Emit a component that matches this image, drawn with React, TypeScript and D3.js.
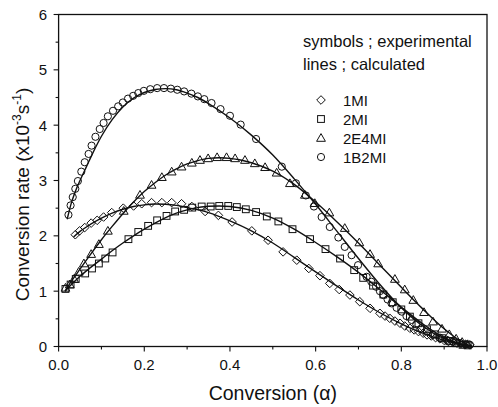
import React from "react";
import * as d3 from "d3";

type P = [number, number];

const xTicks = [0, 0.2, 0.4, 0.6, 0.8, 1.0];
const yTicks = [0, 1, 2, 3, 4, 5, 6];

const names = ["1MI", "2MI", "2E4MI", "1B2MI"];
const shapes = ["diamond", "square", "triangle", "circle"];

const exp1MI: P[] = [[0.039,2.02],[0.049,2.09],[0.061,2.15],[0.076,2.23],[0.090,2.28],[0.105,2.34],[0.124,2.42],[0.151,2.50],[0.175,2.54],[0.194,2.58],[0.217,2.60],[0.241,2.60],[0.264,2.60],[0.287,2.58],[0.311,2.53],[0.342,2.44],[0.373,2.37],[0.405,2.25],[0.451,2.09],[0.489,1.92],[0.524,1.71],[0.556,1.56],[0.584,1.41],[0.610,1.28],[0.633,1.14],[0.655,1.03],[0.680,0.93],[0.703,0.81],[0.727,0.69],[0.750,0.60],[0.762,0.55],[0.773,0.51],[0.785,0.46],[0.797,0.42],[0.808,0.37],[0.820,0.33],[0.830,0.30],[0.840,0.27],[0.851,0.24],[0.860,0.21],[0.870,0.19],[0.880,0.16],[0.890,0.14],[0.900,0.11],[0.910,0.09],[0.920,0.08],[0.930,0.06],[0.940,0.05],[0.950,0.04],[0.960,0.03]];
const exp2MI: P[] = [[0.016,1.04],[0.028,1.12],[0.040,1.22],[0.062,1.32],[0.078,1.41],[0.094,1.50],[0.109,1.59],[0.126,1.70],[0.163,1.94],[0.186,2.07],[0.209,2.18],[0.230,2.28],[0.252,2.36],[0.272,2.44],[0.293,2.47],[0.312,2.51],[0.334,2.53],[0.355,2.53],[0.375,2.54],[0.396,2.54],[0.416,2.52],[0.437,2.48],[0.461,2.43],[0.486,2.35],[0.513,2.26],[0.546,2.12],[0.587,1.94],[0.623,1.76],[0.657,1.59],[0.690,1.38],[0.711,1.24],[0.734,1.10],[0.758,0.94],[0.780,0.80],[0.800,0.67],[0.820,0.54],[0.840,0.42],[0.860,0.31],[0.878,0.22],[0.895,0.15],[0.912,0.10],[0.928,0.06],[0.943,0.03],[0.955,0.02]];
const exp2E4MI: P[] = [[0.016,1.06],[0.026,1.12],[0.036,1.22],[0.047,1.35],[0.059,1.50],[0.076,1.67],[0.094,1.85],[0.115,2.09],[0.152,2.45],[0.190,2.74],[0.217,2.92],[0.241,3.06],[0.264,3.16],[0.287,3.25],[0.311,3.32],[0.330,3.37],[0.349,3.40],[0.370,3.42],[0.392,3.42],[0.412,3.40],[0.435,3.37],[0.458,3.31],[0.482,3.24],[0.509,3.14],[0.540,2.95],[0.575,2.74],[0.598,2.59],[0.632,2.42],[0.668,2.14],[0.702,1.88],[0.727,1.67],[0.746,1.50],[0.785,1.22],[0.808,1.03],[0.828,0.84],[0.853,0.62],[0.874,0.45],[0.895,0.32],[0.912,0.22],[0.928,0.14],[0.942,0.08],[0.955,0.04]];
const exp1B2MI: P[] = [[0.023,2.38],[0.028,2.55],[0.033,2.70],[0.039,2.85],[0.045,2.99],[0.053,3.16],[0.061,3.33],[0.070,3.48],[0.077,3.63],[0.086,3.79],[0.096,3.93],[0.105,4.04],[0.115,4.16],[0.127,4.26],[0.139,4.34],[0.150,4.41],[0.162,4.48],[0.174,4.53],[0.186,4.58],[0.199,4.62],[0.214,4.65],[0.230,4.67],[0.246,4.67],[0.262,4.66],[0.277,4.64],[0.293,4.61],[0.310,4.57],[0.325,4.52],[0.340,4.47],[0.357,4.40],[0.378,4.29],[0.400,4.17],[0.425,4.01],[0.461,3.75],[0.521,3.25],[0.554,2.95],[0.577,2.73],[0.596,2.53],[0.614,2.34],[0.633,2.16],[0.653,1.97],[0.668,1.80],[0.684,1.65],[0.699,1.47],[0.719,1.26],[0.730,1.17],[0.741,1.08],[0.750,1.00],[0.758,0.93],[0.768,0.85],[0.777,0.78],[0.789,0.70],[0.801,0.63],[0.812,0.55],[0.824,0.48],[0.835,0.40],[0.847,0.33],[0.860,0.27],[0.874,0.21],[0.890,0.16],[0.906,0.12],[0.921,0.09],[0.937,0.06],[0.950,0.04],[0.960,0.03]];

const calc1MI: P[] = [[0.035,1.98],[0.05,2.08],[0.075,2.21],[0.10,2.32],[0.125,2.41],[0.15,2.48],[0.175,2.53],[0.20,2.56],[0.225,2.575],[0.25,2.57],[0.275,2.55],[0.30,2.51],[0.35,2.42],[0.40,2.27],[0.45,2.09],[0.50,1.87],[0.55,1.61],[0.60,1.35],[0.65,1.09],[0.70,0.84],[0.75,0.61],[0.80,0.41],[0.85,0.24],[0.90,0.11],[0.94,0.03],[0.965,0.0]];
const calc2MI: P[] = [[0.015,1.00],[0.03,1.12],[0.05,1.27],[0.075,1.43],[0.10,1.58],[0.125,1.73],[0.15,1.87],[0.175,2.00],[0.20,2.12],[0.225,2.23],[0.25,2.33],[0.275,2.41],[0.30,2.47],[0.325,2.51],[0.35,2.535],[0.375,2.54],[0.40,2.53],[0.45,2.46],[0.50,2.32],[0.55,2.12],[0.60,1.88],[0.65,1.62],[0.70,1.34],[0.75,1.03],[0.80,0.71],[0.85,0.41],[0.90,0.16],[0.94,0.04],[0.965,0.0]];
const calc2E4MI: P[] = [[0.015,1.00],[0.03,1.18],[0.05,1.40],[0.075,1.67],[0.10,1.93],[0.125,2.17],[0.15,2.40],[0.175,2.61],[0.20,2.80],[0.225,2.96],[0.25,3.10],[0.275,3.21],[0.30,3.30],[0.325,3.36],[0.35,3.40],[0.375,3.41],[0.40,3.40],[0.425,3.37],[0.45,3.32],[0.50,3.17],[0.55,2.93],[0.60,2.61],[0.65,2.25],[0.70,1.87],[0.75,1.47],[0.80,1.07],[0.85,0.68],[0.90,0.32],[0.94,0.09],[0.965,0.0]];
const calc1B2MI: P[] = [[0.020,2.30],[0.030,2.60],[0.040,2.82],[0.050,3.00],[0.065,3.25],[0.080,3.50],[0.100,3.80],[0.125,4.10],[0.150,4.33],[0.175,4.49],[0.200,4.59],[0.225,4.645],[0.250,4.66],[0.275,4.64],[0.300,4.58],[0.325,4.50],[0.350,4.39],[0.400,4.13],[0.450,3.82],[0.500,3.46],[0.550,3.03],[0.600,2.57],[0.650,2.08],[0.700,1.59],[0.750,1.12],[0.800,0.70],[0.850,0.37],[0.900,0.14],[0.940,0.04],[0.965,0.0]];

const expData = [exp1MI, exp2MI, exp2E4MI, exp1B2MI];
const calcData = [calc1MI, calc2MI, calc2E4MI, calc1B2MI];

const W = 498, H = 407;
const L = 58.6, R = 487, T = 14.5, B = 346.5;
const FONT = "'Liberation Sans', Arial, Helvetica, sans-serif";

function Marker({ shape, x, y }: { shape: string; x: number; y: number }) {
  const common = { fill: "none", stroke: "#111", strokeWidth: 1 };
  if (shape === "diamond") {
    const r = 4.3;
    return <path d={`M${x},${y - r}L${x + r},${y}L${x},${y + r}L${x - r},${y}Z`} {...common} />;
  }
  if (shape === "square") {
    const r = 3.4;
    return <rect x={x - r} y={y - r} width={2 * r} height={2 * r} {...common} />;
  }
  if (shape === "triangle") {
    const r = 4.4;
    return <path d={`M${x},${y - r}L${x + r},${y + r * 0.75}L${x - r},${y + r * 0.75}Z`} {...common} />;
  }
  return <circle cx={x} cy={y} r={3.6} {...common} />;
}

export default function App() {
  const x = d3.scaleLinear().domain([0, 1]).range([L, R]);
  const y = d3.scaleLinear().domain([0, 6]).range([B, T]);
  const line = d3
    .line<P>()
    .x((d) => x(d[0]))
    .y((d) => y(d[1]))
    .curve(d3.curveMonotoneX);
  const xMinor = d3.range(0, 1.0001, 0.1);
  const yMinor = d3.range(0, 6.0001, 0.5);

  return (
    <svg
      width={W}
      height={H}
      style={{ position: "absolute", left: 0, top: 0, background: "#fff" }}
      fontFamily={FONT}
    >
      <rect x={0} y={0} width={W} height={H} fill="#fff" />
      {/* frame */}
      <rect x={L} y={T} width={R - L} height={B - T} fill="none" stroke="#111" strokeWidth={1.3} />
      {/* x ticks */}
      {xMinor.map((v, i) => (
        <line key={"xm" + i} x1={x(v)} x2={x(v)} y1={B} y2={B + (i % 2 === 0 ? 5 : 3)} stroke="#111" strokeWidth={1.1} />
      ))}
      {yMinor.map((v, i) => (
        <line key={"ym" + i} x1={L} x2={L - (i % 2 === 0 ? 5 : 3)} y1={y(v)} y2={y(v)} stroke="#111" strokeWidth={1.1} />
      ))}
      {xTicks.map((v) => (
        <text key={"xl" + v} x={x(v)} y={370} fontSize={15} textAnchor="middle" fill="#111">
          {v.toFixed(1)}
        </text>
      ))}
      {yTicks.map((v) => (
        <text key={"yl" + v} x={47} y={y(v) + 5.5} fontSize={15} textAnchor="end" fill="#111">
          {v}
        </text>
      ))}
      {/* axis titles */}
      <text x={(L + R) / 2} y={400} fontSize={19.5} textAnchor="middle" fill="#111">
        Conversion (α)
      </text>
      <text transform={`translate(29,${(T + B) / 2 + 14}) rotate(-90)`} fontSize={19} textAnchor="middle" fill="#111">
        Conversion rate (x10
        <tspan fontSize={12} dy={-8}>-3</tspan>
        <tspan dy={8}>s</tspan>
        <tspan fontSize={12} dy={-8}>-1</tspan>
        <tspan dy={8}>)</tspan>
      </text>
      {/* calculated lines */}
      {calcData.map((d, i) => (
        <path key={"c" + i} d={line(d) || ""} fill="none" stroke="#111" strokeWidth={1.4} />
      ))}
      {/* experimental symbols */}
      {expData.map((d, i) =>
        d.map((p, j) => <Marker key={"e" + i + "_" + j} shape={shapes[i]} x={x(p[0])} y={y(p[1])} />)
      )}
      {/* legend */}
      <text x={303} y={46.5} fontSize={16.5} fill="#111">symbols ; experimental</text>
      <text x={303} y={70} fontSize={16.5} fill="#111">lines ; calculated</text>
      {names.map((n, i) => (
        <g key={"lg" + n}>
          <Marker shape={shapes[i]} x={321} y={100 + i * 19} />
          <text x={343} y={105.5 + i * 19} fontSize={15} fill="#111">{n}</text>
        </g>
      ))}
    </svg>
  );
}
